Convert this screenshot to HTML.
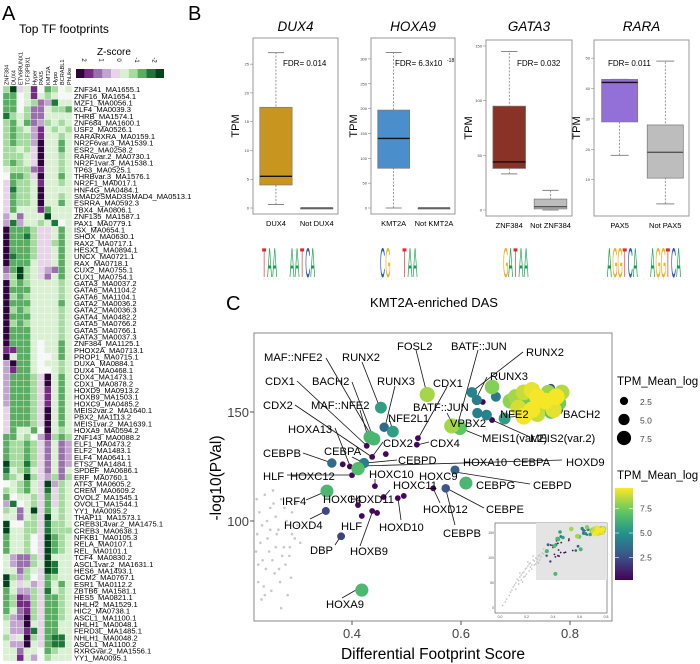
<!DOCTYPE html>
<html><head><meta charset="utf-8"><style>
html,body{margin:0;padding:0;background:#fff}
svg{display:block;font-family:"Liberation Sans",sans-serif}
</style></head><body>
<svg id="fig" width="700" height="664" viewBox="0 0 700 664" xmlns="http://www.w3.org/2000/svg">
<g id="panelA"></g>
<g id="panelB"></g>
<g id="panelC"></g>
</svg>
<script>
// ---------- Panel A data ----------
const hmColumns = ["ZNF384","DUX4","ETV6RUNX1","TCF3PBX1","Hyper","PAX5","KMT2A","Hypo","BCRABL1","PhLike"];
const hmRows = ["ZNF341_MA1655.1","ZNF16_MA1654.1","MZF1_MA0056.1","KLF4_MA0039.3","THRB_MA1574.1","ZNF684_MA1600.1","USF2_MA0526.1","RARARXRA_MA0159.1","NR2F6var.3_MA1539.1","ESR2_MA0258.2","RARAvar.2_MA0730.1","NR2F1var.3_MA1538.1","TP63_MA0525.1","THRBvar.3_MA1576.1","NR2F1_MA0017.1","HNF4G_MA0484.1","SMAD2SMAD3SMAD4_MA0513.1","ESRRA_MA0592.3","TBX4_MA0806.1","ZNF135_MA1587.1","PAX1_MA0779.1","ISX_MA0654.1","SHOX_MA0630.1","RAX2_MA0717.1","HESX1_MA0894.1","UNCX_MA0721.1","RAX_MA0718.1","CUX2_MA0755.1","CUX1_MA0754.1","GATA3_MA0037.2","GATA6_MA1104.2","GATA6_MA1104.1","GATA2_MA0036.2","GATA2_MA0036.3","GATA4_MA0482.2","GATA5_MA0766.2","GATA5_MA0766.1","GATA3_MA0037.3","ZNF384_MA1125.1","PHOX2A_MA0713.1","PROP1_MA0715.1","DUXA_MA0884.1","DUX4_MA0468.1","CDX4_MA1473.1","CDX1_MA0878.2","HOXD9_MA0913.2","HOXB9_MA1503.1","HOXC9_MA0485.2","MEIS2var.2_MA1640.1","PBX2_MA1113.2","MEIS1var.2_MA1639.1","HOXA9_MA0594.2","ZNF143_MA0088.2","ELF1_MA0473.2","ELF2_MA1483.1","ELF4_MA0641.1","ETS2_MA1484.1","SPDEF_MA0686.1","ERF_MA0760.1","ATF3_MA0605.2","CREM_MA0609.2","OVOL2_MA1545.1","OVOL1_MA1544.1","YY1_MA0095.2","THAP11_MA1573.1","CREB3L4var.2_MA1475.1","CREB3_MA0638.1","NFKB1_MA0105.3","RELA_MA0107.1","REL_MA0101.1","TCF4_MA0830.2","ASCL1var.2_MA1631.1","HES6_MA1493.1","GCM2_MA0767.1","ESR1_MA0112.2","ZBTB6_MA1581.1","HES5_MA0821.1","NHLH2_MA1529.1","HIC2_MA0738.1","ASCL1_MA1100.1","NHLH1_MA0048.1","FERD3L_MA1485.1","NHLH1_MA0048.2","ASCL1_MA1100.2","RXRGvar.2_MA1556.1","YY1_MA0095.1"];
// codes: 5..1 purple (z 2..0.2), 0 white, a..e green (z -0.3..-2)
const hmCodes = ["be1a40cb0a","cc0a4aba00","cc0ab32daa","cc0b33abbc","dbab33aaaa","bcac32baba","bcba24abab","bcbb24aaba","bcbb25aaca","bbab15aaca","bbba15aaba","bcba15aaba","abbb34aaba","0ccb15aaca","1cbba4aaba","1dbba5aaaa","1cbba5aaba","1cbba5aaca","1caaa4caaa","2a3aaaeaaa","2d2aabad0a","5cccb11aca","5ccdb11aca","5cccb11bca","5cccb11aca","5dccb11aca","5ccca11aca","3ceba123ca","2beba13aca","5bcbaaaaba","5cccaaaaba","5bcbaaaaba","5cccaaaaca","5bcbaaaaba","5cccaaaaba","5bcbaaaaba","5cccaaaaba","5cccaaaaba","5ccca0aaca","44cca0aaca","5acca00aca","25cca0aaba","24cca00aba","2cccb15aca","2cccb15aca","2cccb14aca","2cccb14aca","2cccb14aca","1cccb15aca","1cccb15aca","1cccb15aca","1caac05aba","ccab024bcb","cbbcb13a32","cbbcb13a32","cbbcb13a32","ebbdb13a32","dabca13a3a","cbaeb12b3b","0abca1e2ba","babca1d1ba","c0aab1c1ba","2d0ab1c1ba","ba3ae1caba","aa3ab1eaba","e00bb1dbba","eaabb1dbbb","caab01ecba","caab01ecba","caab01ecba","a233b1eaaa","a233baedaa","aa3ba1edaa","eb2b01cbaa","ea1a21caca","ca22b1daba","cb43b1ccba","cb44b1ccba","ca34b1ccba","b235b1ccba","a225a1ccaa","a224d1ccaa","b1a5b1cdda","a225a1cdda","aa3aa0cbaa","aa4a20baaa"];
const zLegend = [2,1.5,1,0.5,0.2,-0.3,-0.6,-1,-1.5,-2];
const zLegendTicks = ["2","1","0","-1","-2"];

// ---------- Panel B data ----------
const boxGenes = ["DUX4","HOXA9","GATA3","RARA"];
const boxGroups = [["DUX4","Not DUX4"],["KMT2A","Not KMT2A"],["ZNF384","Not ZNF384"],["PAX5","Not PAX5"]];
const boxStatsIn = [[0.6,4,5.5,17.5,27],[0,80,140,197,313],[33,38,44,95,145],[18,29,42,43,43]];
const boxStatsOut = [[0,0,0,0,0],[0,0,0,0,0],[0,1,3,10,18],[2,10.5,19,28,49]];
const boxTicks = [[0,5,10,15,20,25],[0,50,100,150,200,250,300],[0,50,100,150],[10,20,30,40,50]];
const boxYMax = [28.5,330,150,54];
const boxColors = ["#c8961f","#4a8fcb","#8b3226","#9370d8"];
const fdrText = ["FDR= 0.014","FDR= 6.3x10","FDR= 0.032","FDR= 0.011"];

// ---------- Panel C data ----------
const dfsX = [0.453,0.459,0.475,0.433,0.44,0.538,0.62,0.657,0.629,0.664,0.640,0.63,0.647,0.68,0.657,0.583,0.598,0.521,0.519,0.427,0.437,0.462,0.363,0.383,0.396,0.422,0.411,0.40,0.442,0.589,0.609,0.572,0.549,0.458,0.484,0.495,0.354,0.352,0.411,0.418,0.437,0.446,0.38,0.418,
 0.70,0.715,0.72,0.73,0.74,0.745,0.76,0.765,0.755,0.77,0.775,0.78,0.785,0.73,0.715,0.725,0.74,0.765,0.78,0.705,0.69];
const dfsY = [152,143,141,138.5,137.6,158,159,161.5,155.5,157,154.6,149.5,148.6,147,146.3,143.6,142.6,138,135,134.5,129.4,130.7,126.6,126,125,126.6,124,121,116,123.4,117.4,115,115,111,110.5,111.5,113.7,104.6,107.3,102.3,104.6,103.7,93,68.3,
 157,159,155,160,157,153,159,161,155,151,157,154,159,151,148,152,149,150,151,152,155];
const dfsTPM = [5.5,3.5,5.5,6.5,6.5,8.3,4.5,7.8,4.2,4.0,0.5,4.3,4.5,5.5,0.5,8.3,7.2,0.5,0.5,0.5,0.5,0.5,3.5,0.5,0.5,4.2,6.8,0.5,0.5,3.2,6.5,2.8,0.5,0.5,0.5,0.5,6.5,2.3,0.5,0.5,0.5,0.5,2.2,6.6,
 8.3,8.8,7.5,9.3,9.5,8.5,8.2,2.5,9.5,9.2,9.5,7.5,8.5,9.5,9.5,2.5,8.8,7.0,2.5,9.0,8.0];
const grayX = [0.225,0.23,0.24,0.235,0.25,0.255,0.26,0.245,0.27,0.265,0.28,0.275,0.29,0.285,0.3,0.232,0.248,0.262,0.278,0.295,0.228,0.242,0.258,0.272,0.288,0.238,0.252,0.268,0.282,0.305,0.226,0.244,0.256,0.266,0.286,0.298,0.234,0.27,0.224,0.236,0.25,0.26,0.276,0.29,0.228,0.24,0.254];
const grayY = [110,104,112,98,106,114,102,92,110,96,100,88,104,84,98,90,86,94,80,92,80,78,76,84,74,70,68,72,66,90,94,100,108,78,88,108,64,60,86,82,96,88,106,94,72,66,82];
const insetGrayX = [0.02,0.04,0.05,0.07,0.08,0.09,0.1,0.11,0.12,0.13,0.14,0.15,0.16,0.17,0.18,0.19,0.2,0.21,0.22,0.23,0.24,0.25,0.26,0.27,0.28,0.29,0.3,0.31,0.32,0.33,0.34,0.12,0.14,0.16,0.18,0.2,0.22,0.24,0.26,0.28,0.3,0.15,0.19,0.23,0.27,0.21,0.25,0.17,0.29,0.33];
const insetGrayY = [5,12,18,25,32,36,42,46,50,58,55,62,66,70,72,78,80,84,88,90,86,96,94,100,98,104,106,102,110,108,112,38,48,56,62,68,74,78,86,92,96,70,64,82,88,92,104,52,90,118];
const tpmLegend = [2.5,5.0,7.5];

// ---------- helpers ----------
const NS = "http://www.w3.org/2000/svg";
function mk(parent, tag, attrs, text){
  const e = document.createElementNS(NS, tag);
  for (const k in attrs) e.setAttribute(k, attrs[k]);
  if (text !== undefined) e.textContent = text;
  parent.appendChild(e);
  return e;
}
const codeVal = {"5":2,"4":1.5,"3":1,"2":0.5,"1":0.2,"0":0,"a":-0.3,"b":-0.6,"c":-1,"d":-1.5,"e":-2};
function zColor(z){
  const stops=[[2,[45,4,60]],[1.5,[118,42,131]],[1,[153,112,171]],[0.5,[194,165,207]],[0.2,[231,212,232]],[0,[247,247,247]],[-0.3,[217,240,211]],[-0.6,[166,219,160]],[-1,[90,174,97]],[-1.5,[27,120,55]],[-2,[0,68,27]]];
  for(let i=0;i<stops.length-1;i++){const a=stops[i],b=stops[i+1];
    if(z<=a[0]&&z>=b[0]){const t=(a[0]-z)/(a[0]-b[0]);const c=a[1].map((v,j)=>Math.round(v+(b[1][j]-v)*t));return `rgb(${c})`;}}
  return z>2?"rgb(45,4,60)":"rgb(0,68,27)";
}
function viridis(t){
  const s=[[68,1,84],[59,82,139],[33,145,140],[94,201,98],[253,231,37]];
  t=Math.max(0,Math.min(1,t));const p=t*4,i=Math.min(3,Math.floor(p)),f=p-i;
  return `rgb(${s[i].map((v,j)=>Math.round(v+(s[i+1][j]-v)*f))})`;
}
const tpmCol = v => viridis((v-0.3)/9.3);

// ---------- Panel A ----------
(function(){
  const g = document.getElementById("panelA");
  const t1=mk(g,"text",{x:2,y:20,"font-size":20},"A");
  
  
  const t2=mk(g,"text",{x:64,y:33,"font-size":12,"text-anchor":"middle"},"Top TF footprints");
  
  
  const x0=3, cw=6.9, y0=86, rh=575/hmRows.length;
  hmColumns.forEach((c,j)=>{
    const t=mk(g,"text",{x:0,y:0,"font-size":5.6,transform:`translate(${x0+cw*j+cw/2+2.2},85) rotate(-90)`},c);
    
    
  });
  hmRows.forEach((r,i)=>{
    const code=hmCodes[i];
    for(let j=0;j<10;j++){
      const z=codeVal[code[j]];
      const rc=mk(g,"rect",{x:x0+cw*j,y:y0+rh*i,width:cw,height:rh,fill:zColor(z),stroke:"#fff","stroke-width":0.3});
      
      
    }
    const t=mk(g,"text",{x:74,y:y0+rh*i+rh-0.6,"font-size":7.6},r);
    
    
  });
  const zt=mk(g,"text",{x:97,y:55,"font-size":10},"Z-score");
  
  
  zLegend.forEach((z,k)=>{
    const r=mk(g,"rect",{x:76+k*8.8,y:69,width:8.8,height:9,fill:zColor(z)});
    
    
  });
  zLegendTicks.forEach((s,k)=>{
    const t=mk(g,"text",{x:0,y:0,"font-size":6,transform:`translate(${82+k*17.6},60) rotate(90)`,"text-anchor":"middle"},s);
    
    
  });
})();

// ---------- Panel B ----------
(function(){
  const g = document.getElementById("panelB");
  const L=mk(g,"text",{x:188,y:20,"font-size":20},"B");
  
  
  const frames=[[253,338,38,214],[371,455,38,214],[486,572,40,216],[594,689,40,216]];
  boxGenes.forEach((gene,i)=>{
    const [fx0,fx1,fy0,fy1]=frames[i], w=fx1-fx0;
    const ybot=fy1-6, ytop=fy0+6;
    const sy=v=>ybot-(v/boxYMax[i])*(ybot-ytop);
    const grp=mk(g,"g",{});
    
    
    const tt=mk(grp,"text",{x:(fx0+fx1)/2,y:31,"font-size":13.5,"font-style":"italic","text-anchor":"middle"},gene);
    
    
    const fr=mk(grp,"rect",{x:fx0,y:fy0,width:w,height:fy1-fy0,fill:"none",stroke:"#999","stroke-width":1});
    
    
    const yl=mk(grp,"text",{x:0,y:0,"font-size":11,transform:`translate(${fx0-14},${(fy0+fy1)/2}) rotate(-90)`,"text-anchor":"middle"},"TPM");
    
    
    boxTicks[i].forEach(v=>{
      mk(grp,"line",{x1:fx0-3,x2:fx0,y1:sy(v),y2:sy(v),stroke:"#777","stroke-width":0.5});
      const tk=mk(grp,"text",{x:fx0-4,y:sy(v)+1.5,"font-size":4,"text-anchor":"end",fill:"#444"},String(v));
      
      
    });
    const centers=[fx0+w*0.27,fx0+w*0.75];
    [boxStatsIn[i],boxStatsOut[i]].forEach((st,k)=>{
      const cx=centers[k], bw=w*0.38;
      const fill=k===0?boxColors[i]:"#bdbdbd";
      mk(grp,"line",{x1:cx,x2:cx,y1:sy(st[0]),y2:sy(st[4]),stroke:"#555","stroke-width":0.6,"stroke-dasharray":"2,1.5"});
      mk(grp,"line",{x1:cx-bw/4,x2:cx+bw/4,y1:sy(st[0]),y2:sy(st[0]),stroke:"#888","stroke-width":1});
      mk(grp,"line",{x1:cx-bw/4,x2:cx+bw/4,y1:sy(st[4]),y2:sy(st[4]),stroke:"#888","stroke-width":1});
      const b=mk(grp,"rect",{x:cx-bw/2,y:sy(st[3]),width:bw,height:Math.max(1,sy(st[1])-sy(st[3])),fill:fill,stroke:"#777","stroke-width":0.7});
      
      
      mk(grp,"line",{x1:cx-bw/2,x2:cx+bw/2,y1:sy(st[2]),y2:sy(st[2]),stroke:k===0?"#111":"#555","stroke-width":1.4});
      const cl=mk(grp,"text",{x:cx,y:fy1+12,"font-size":7.5,"text-anchor":"middle"},boxGroups[i][k]);
      
      
    });
    const fx=[283,395,517,608][i];
    const f=mk(grp,"text",{x:fx,y:66,"font-size":8},fdrText[i]);
    
    
    if(i===1){const s=mk(grp,"text",{x:447,y:62,"font-size":5},"-18");}
  });
  // motif logos (text letters)
  const logos=[[262,"TAA","AATCA"],[380,"CG","TAA"],[503,"GATAA",""],[607,"AGGTCA","AGGTCA"]];
  const lc={A:"#12a24a",T:"#e02a32",C:"#2a5db0",G:"#f3b020"};
  logos.forEach((lg,i)=>{
    const grp=mk(g,"g",{});
    
    
    let x=lg[0];
    const parts=[lg[1],lg[2]];
    parts.forEach((p,pi)=>{
      for(const ch of p){
        mk(grp,"text",{x:0,y:0,"font-size":14,fill:lc[ch],transform:`translate(${x},277) scale(0.5,3.0)`},ch);
        x+=5.2;
      }
      if(pi===0 && lg[2]) x+=12;
    });
    mk(grp,"line",{x1:lg[0]-4,x2:x+2,y1:279,y2:279,stroke:"#ccc","stroke-width":0.5,"stroke-dasharray":"1,4"});
  });
})();

// ---------- Panel C ----------
(function(){
  const g = document.getElementById("panelC");
  const sx=v=>352+(v-0.4)*545, sy=v=>412-(v-150)*2.18;
  const L=mk(g,"text",{x:226,y:310,"font-size":20},"C");
  
  
  const T=mk(g,"text",{x:434,y:307,"font-size":13,"text-anchor":"middle"},"KMT2A-enriched DAS");
  
  
  const fr=mk(g,"rect",{x:254,y:333,width:358,height:288,fill:"#fff",stroke:"#888","stroke-width":1});
  
  
  [100,150].forEach(v=>{
    mk(g,"line",{x1:250,x2:254,y1:sy(v),y2:sy(v),stroke:"#555"});
    const t=mk(g,"text",{x:249,y:sy(v)+5,"font-size":13,"text-anchor":"end",fill:"#444"},String(v));
    
    
  });
  [0.4,0.6,0.8].forEach(v=>{
    mk(g,"line",{x1:sx(v),x2:sx(v),y1:621,y2:625,stroke:"#555"});
    const t=mk(g,"text",{x:sx(v),y:638,"font-size":13,"text-anchor":"middle",fill:"#444"},v.toFixed(1));
    
    
  });
  const xt=mk(g,"text",{x:433,y:659,"font-size":15.5,"text-anchor":"middle"},"Differential Footprint Score");
  
  
  const yt=mk(g,"text",{x:0,y:0,"font-size":15.5,"text-anchor":"middle",transform:"translate(221,478) rotate(-90)"},"-log10(PVal)");
  
  
  grayX.forEach((x,i)=>{
    const c=mk(g,"circle",{cx:sx(x),cy:sy(grayY[i]),r:1.3,fill:"#c8c8c8"});
    
    
  });
  // labels & leader lines
  const labels=[
    ["MAF::NFE2",264,361,326,358,372,437],["RUNX2",342,361,362,362,380,408],["CDX1",265,385,297,381,367,446],
    ["BACH2",312,385,352,382,373,437],["RUNX3",377,385,395,386,385,427],["CDX1",433,387,447,387,419,437],
    ["FOSL2",397,350,416,350,427,394],["BATF::JUN",451,350,478,350,457,427],["RUNX2",526,356,523,352,474,390],
    ["RUNX3",490,380,487,377,477,397],["CDX2",263,409,295,405,372,457],["MAF::NFE2",311,409,360,410,368,437],
    ["BATF::JUN",413,411,447,413,453,425],["NFE2L1",388,422,390,421,393,432],["VPBX2",450,427,0,0,0,0],
    ["NFE2",500,418,0,0,0,0],["BACH2",563,418,562,413,510,417],["MEIS1(var.2)",482,442,482,437,460,428],
    ["MEIS2(var.2)",530,442,530,437,492,420],["HOXA13",288,433,335,428,350,466],["CDX2",383,447,383,442,372,457],
    ["CDX4",430,447,429,442,417,445],["CEBPB",263,457,303,453,332,463],["CEBPA",324,455,352,457,364,463],
    ["CEBPD",398,464,397,460,366,463],["HOXA10",463,466,0,0,0,0],["CEBPA",513,466,0,0,0,0],["HOXD9",566,466,562,460,362,466],
    ["HLF",263,480,287,475,352,475],["HOXC12",290,480,0,0,0,0],["HOXC10",369,478,375,479,375,486],
    ["HOXC9",419,480,455,472,530,484],["CEBPG",476,489,0,0,0,0],["CEBPD",533,489,0,0,0,0],["HOXC11",393,489,390,490,384,497],
    ["IRF4",282,505,306,500,327,491],["HOXC4",323,503,0,0,0,0],["HOXD11",350,503,0,0,0,0],["CEBPE",486,513,484,508,446,488],
    ["HOXD12",423,513,440,503,433,488],["CEBPB",443,537,455,525,446,490],["HOXD4",284,529,310,519,326,511],
    ["HLF",341,530,0,0,0,0],["HOXD10",379,531,401,520,398,498],["DBP",310,554,335,545,341,536],
    ["HOXB9",350,555,360,546,372,513],["HOXA9",326,608,342,598,356,590]
  ];
  labels.forEach(l=>{
    if(l[3]){const ln=mk(g,"line",{x1:l[3],y1:l[4],x2:l[5],y2:l[6],stroke:"#111","stroke-width":0.8});
      }
  });
  const order=dfsX.map((x,i)=>i).sort((a,b)=>dfsTPM[a]-dfsTPM[b]);
  order.forEach(i=>{
    const c=mk(g,"circle",{cx:sx(dfsX[i]),cy:sy(dfsY[i]),r:2.6+dfsTPM[i]*0.6,fill:tpmCol(dfsTPM[i])});
    
    
  });
  labels.forEach(l=>{
    const t=mk(g,"text",{x:l[1],y:l[2],"font-size":11.2},l[0]);
    
    
  });
  // inset
  const ix=v=>500+v*132.5, iy=v=>608-v*0.5;
  const ib=mk(g,"rect",{x:495,y:523,width:112,height:90,fill:"#fff",stroke:"#777","stroke-width":0.8});
  
  
  const ih=mk(g,"rect",{x:536,y:523,width:71,height:57,fill:"#e4e4e4"});
  
  
  insetGrayX.forEach((x,i)=>{
    const c=mk(g,"circle",{cx:ix(x),cy:iy(insetGrayY[i]),r:0.8,fill:"#bbb"});
    
    
  });
  order.forEach(i=>{
    const c=mk(g,"circle",{cx:ix(dfsX[i]),cy:iy(dfsY[i]),r:0.8+dfsTPM[i]*0.18,fill:tpmCol(dfsTPM[i])});
    
    
  });
  [0,0.2,0.4,0.6,0.8].forEach(v=>{const t=mk(g,"text",{x:ix(v),y:618,"font-size":3.5,"text-anchor":"middle",fill:"#555"},v.toFixed(1));});
  [0,50,100,150].forEach(v=>{const t=mk(g,"text",{x:494,y:iy(v)+1,"font-size":3.5,"text-anchor":"end",fill:"#555"},String(v));});
  // size legend
  const s1=mk(g,"text",{x:617,y:385,"font-size":11.5},"TPM_Mean_log");
  
  
  tpmLegend.forEach((v,k)=>{
    const c=mk(g,"circle",{cx:624,cy:401+k*18.5,r:2.6+v*0.6,fill:"#000"});
    
    
    const t=mk(g,"text",{x:640,y:405+k*18.5,"font-size":8.5,fill:"#444"},v.toFixed(1));
    
    
  });
  const c1=mk(g,"text",{x:617,y:479,"font-size":11.5},"TPM_Mean_log");
  
  
  const defs=mk(g,"defs",{});
  const gr=mk(defs,"linearGradient",{id:"vir",x1:0,y1:1,x2:0,y2:0});
  for(let k=0;k<=10;k++) mk(gr,"stop",{offset:k/10,"stop-color":viridis(k/10)});
  const cb=mk(g,"rect",{x:615,y:488,width:18,height:92,fill:"url(#vir)"});
  
  
  const cy=v=>580-(v-0.2)/9.4*92;
  tpmLegend.forEach(v=>{
    mk(g,"line",{x1:615,x2:619,y1:cy(v),y2:cy(v),stroke:"#fff","stroke-width":0.6});
    mk(g,"line",{x1:629,x2:633,y1:cy(v),y2:cy(v),stroke:"#fff","stroke-width":0.6});
    const t=mk(g,"text",{x:640,y:cy(v)+3,"font-size":8.5,fill:"#444"},v.toFixed(1));
    
    
  });
})();
</script>
</body></html>
